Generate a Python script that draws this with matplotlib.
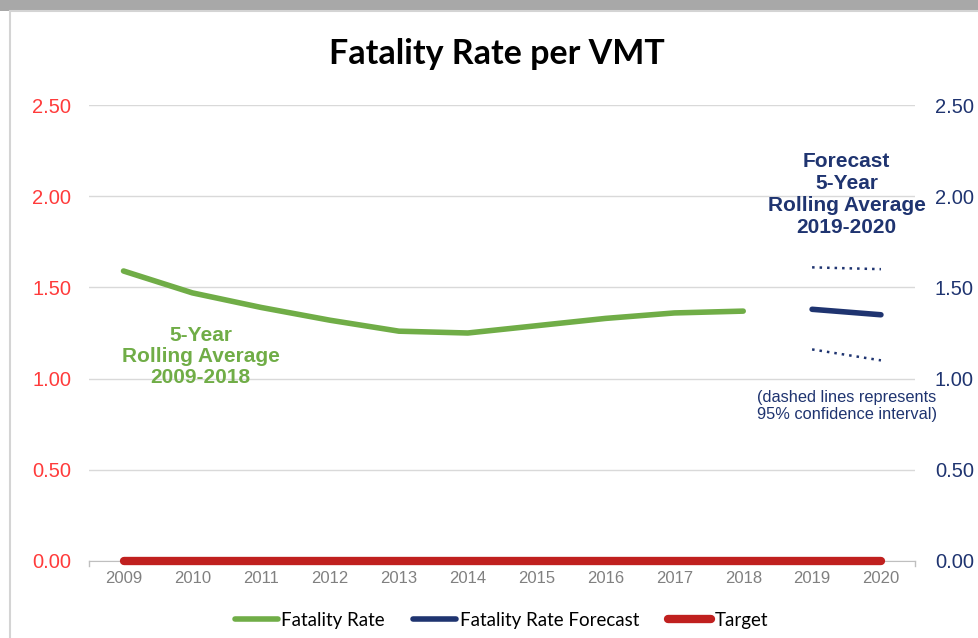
import matplotlib
matplotlib.use('Agg')
import matplotlib.pyplot as plt
from matplotlib.patches import Rectangle

# Data
years = [2009, 2010, 2011, 2012, 2013, 2014, 2015, 2016, 2017, 2018, 2019, 2020]
fatality_rate = [1.59, 1.47, 1.39, 1.32, 1.26, 1.25, 1.29, 1.33, 1.36, 1.37]
forecast_years = [2019, 2020]
forecast = [1.38, 1.35]
forecast_upper = [1.61, 1.60]
forecast_lower = [1.16, 1.10]
target = [0.0] * len(years)
y_ticks = [0.0, 0.5, 1.0, 1.5, 2.0, 2.5]

GREEN = '#70AD47'
NAVY = '#1F3470'
RED = '#C0201F'
TICK_RED = '#FF3B3B'

fig = plt.figure(figsize=(9.79, 6.38), dpi=100)
fig.patch.set_facecolor('white')

# gray band at the top and thin frame, like the screenshot
fig.patches.append(Rectangle((0, 0.982), 1, 0.018, transform=fig.transFigure,
                             facecolor='#A8A8A8', edgecolor='none'))
fig.patches.append(Rectangle((0.0105, -0.01), 1.0, 0.992, transform=fig.transFigure,
                             facecolor='none', edgecolor='#D4D4D4', linewidth=1.5))

ax = fig.add_axes([0.091, 0.1207, 0.844, 0.7147])
ax.set_xlim(2008.5, 2020.5)
ax.set_ylim(0, 2.5)

for s in ['top', 'left', 'right']:
    ax.spines[s].set_visible(False)
ax.spines['bottom'].set_color('#BFBFBF')
ax.yaxis.grid(True, color='#D9D9D9', linewidth=1)
ax.set_axisbelow(True)

ax.set_yticks(y_ticks)
ax.set_yticklabels(['%.2f' % v for v in y_ticks])
ax.tick_params(axis='y', length=0, colors=TICK_RED, labelsize=14.5, pad=13)
ax.set_xticks(years)
ax.set_xticklabels([str(y) for y in years])
ax.tick_params(axis='x', length=0, colors='#808080', labelsize=12, pad=7)
# small boundary ticks at the axis ends
ax.plot([2008.5, 2008.5], [0, -0.03], color='#BFBFBF', lw=1, clip_on=False)
ax.plot([2020.5, 2020.5], [0, -0.03], color='#BFBFBF', lw=1, clip_on=False)

l1, = ax.plot(years[:len(fatality_rate)], fatality_rate, color=GREEN, lw=4,
              solid_capstyle='round', label='Fatality Rate')
l2, = ax.plot(forecast_years, forecast, color=NAVY, lw=4,
              solid_capstyle='round', label='Fatality Rate Forecast')
ax.plot(forecast_years, forecast_upper, color=NAVY, lw=1.8, linestyle=(0, (1, 2)))
ax.plot(forecast_years, forecast_lower, color=NAVY, lw=1.8, linestyle=(0, (1, 2)))
l3, = ax.plot(years, target, color=RED, lw=6, solid_capstyle='round',
              label='Target', clip_on=False, zorder=5)

ax2 = ax.twinx()
ax2.set_ylim(0, 2.5)
for s in ['top', 'left', 'right', 'bottom']:
    ax2.spines[s].set_visible(False)
ax2.set_yticks(y_ticks)
ax2.set_yticklabels(['%.2f' % v for v in y_ticks])
ax2.tick_params(axis='y', length=0, colors=NAVY, labelsize=14.5, pad=14)

ax.text(2010.12, 1.12, '5-Year\nRolling Average\n2009-2018', color=GREEN,
        fontsize=15, fontweight='bold', ha='center', va='center',
        family='Liberation Sans', linespacing=1.12)
ax.text(2019.5, 2.01, 'Forecast\n5-Year\nRolling Average\n2019-2020', color=NAVY,
        fontsize=15, fontweight='bold', ha='center', va='center',
        family='Liberation Sans', linespacing=1.2)
ax.text(2019.5, 0.85, '(dashed lines represents\n95% confidence interval)', color=NAVY,
        fontsize=11.8, ha='center', va='center', family='Liberation Sans',
        linespacing=1.15)

for lbl in ax.get_yticklabels() + ax.get_xticklabels() + ax2.get_yticklabels():
    lbl.set_family('Liberation Sans')

fig.text(0.508, 0.916, 'Fatality Rate per VMT', fontsize=24.5, fontweight='bold',
         ha='center', va='center', family='Lato')

fig.legend(handles=[l1, l2, l3], loc='center', bbox_to_anchor=(0.512, 0.028),
           ncol=3, frameon=False, handlelength=2.3, handletextpad=0.2,
           columnspacing=1.5, prop={'family': 'Lato', 'size': 13.5})

fig.savefig('out.png', dpi=100)
